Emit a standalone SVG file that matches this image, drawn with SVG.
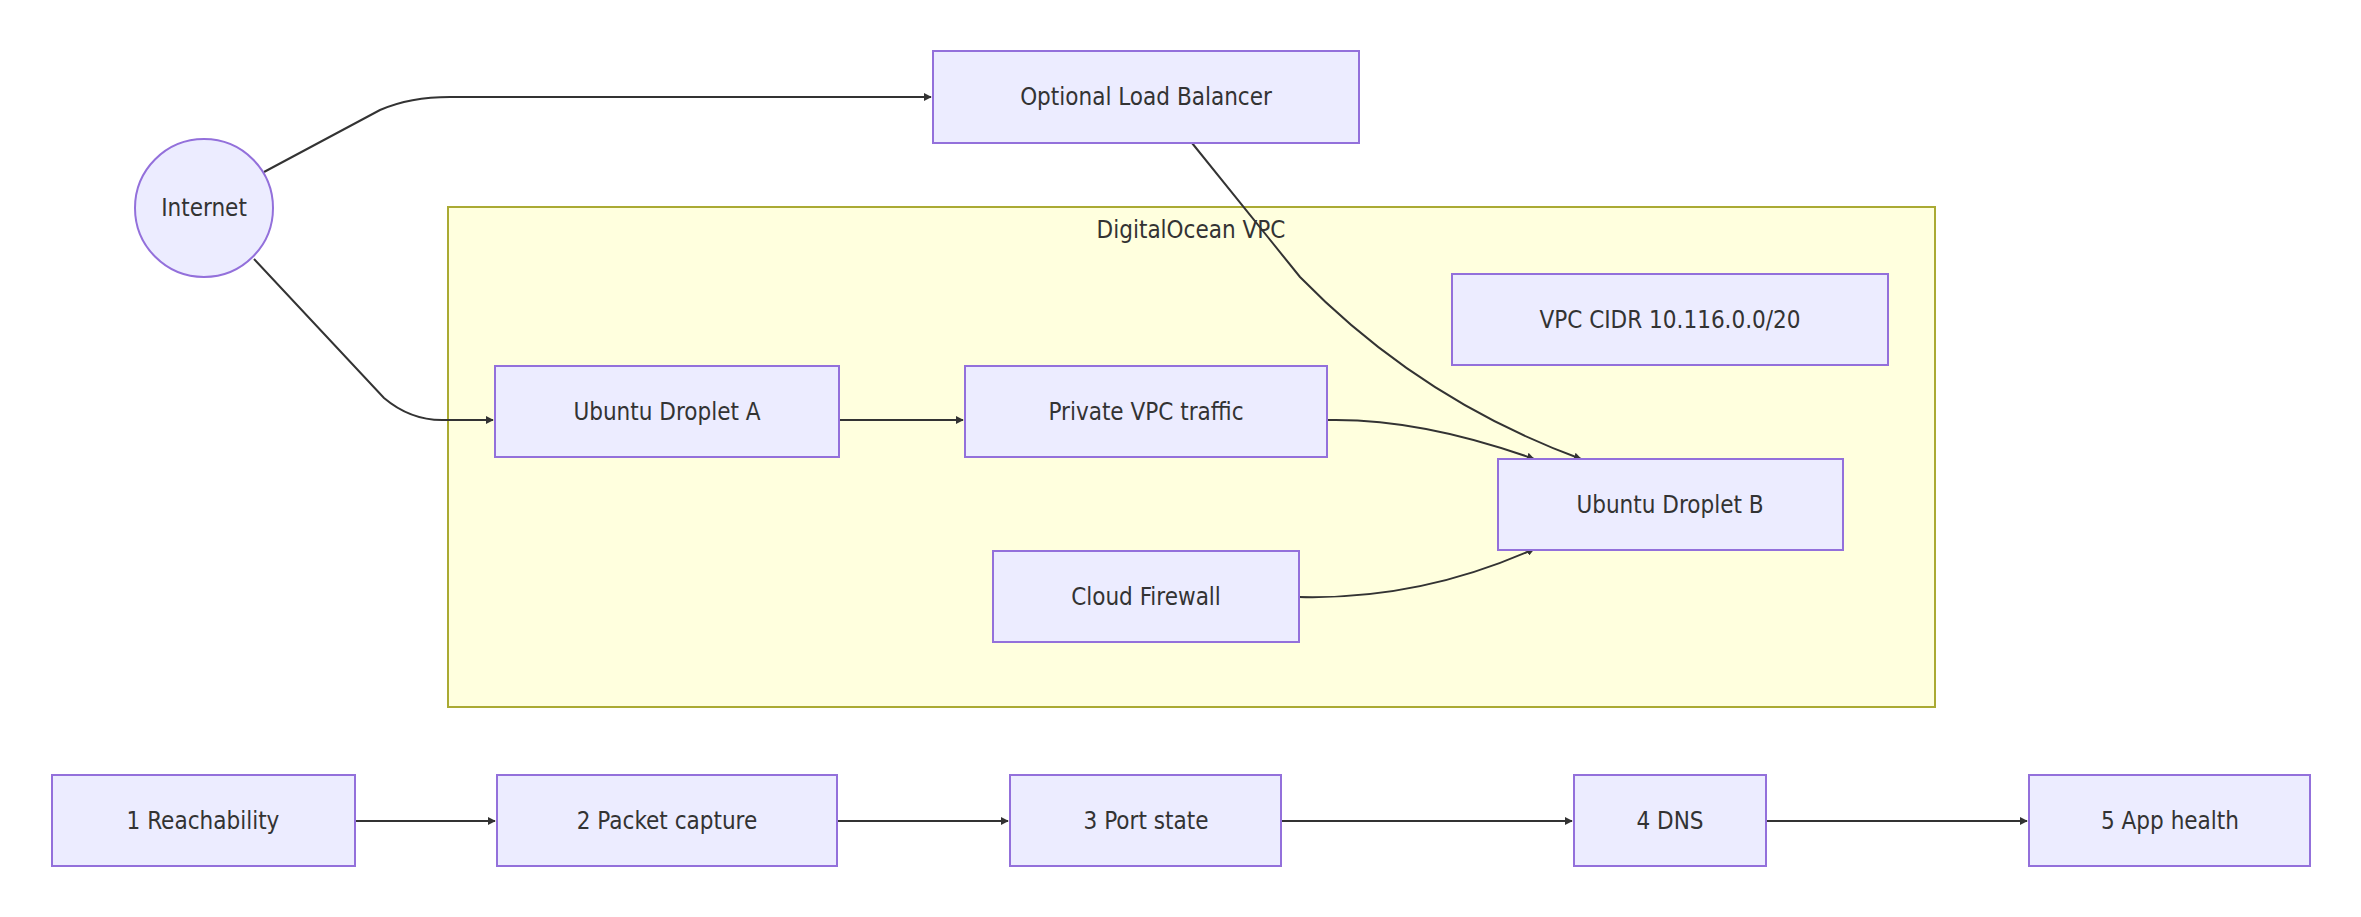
<svg xmlns="http://www.w3.org/2000/svg" width="2361" height="917" viewBox="0 0 2361 917">
<style>
.n{fill:#ECECFF;stroke:#9370DB;stroke-width:2}
.t{font-family:"DejaVu Sans Condensed","DejaVu Sans",sans-serif;font-size:24px;fill:#333;text-anchor:middle;dominant-baseline:central}
.e{fill:none;stroke:#333;stroke-width:2}
</style>
<defs><marker id="a" viewBox="0 0 10 10" refX="9" refY="5" markerWidth="8" markerHeight="8" orient="auto" markerUnits="userSpaceOnUse"><path d="M0,0L10,5L0,10z" fill="#333"/></marker></defs>
<rect width="2361" height="917" fill="#fff"/>
<g id="vpc"><rect x="448" y="207" width="1487" height="500" fill="#ffffde" stroke="#aaaa33" stroke-width="2"/><text class="t" x="1191" y="230">DigitalOcean VPC</text></g>
<g id="edges">
<path class="e" marker-end="url(#a)" d="M264,172 L380,110 Q410,97 450,97 L931,97"/>
<path class="e" marker-end="url(#a)" d="M254,259 L384,398 Q410,420 442,420 L493,420"/>
<path class="e" marker-end="url(#a)" d="M839,420 L963,420"/>
<path class="e" marker-end="url(#a)" d="M1327,420 Q1420,418 1534,459"/>
<path class="e" marker-end="url(#a)" d="M1192,143 L1300,277 Q1420,400 1581,459"/>
<path class="e" marker-end="url(#a)" d="M1299,597 Q1420,600 1534,549"/>
<path class="e" marker-end="url(#a)" d="M355,821 L495,821"/>
<path class="e" marker-end="url(#a)" d="M837,821 L1008,821"/>
<path class="e" marker-end="url(#a)" d="M1281,821 L1572,821"/>
<path class="e" marker-end="url(#a)" d="M1766,821 L2027,821"/>
</g>
<g id="internet"><circle class="n" cx="204" cy="208" r="69"/><text class="t" x="204" y="208">Internet</text></g>
<g id="lb"><rect class="n" x="933" y="51" width="426" height="92"/><text class="t" x="1146" y="97">Optional Load Balancer</text></g>
<g id="cidr"><rect class="n" x="1452" y="274" width="436" height="91"/><text class="t" x="1670" y="320">VPC CIDR 10.116.0.0/20</text></g>
<g id="dropA"><rect class="n" x="495" y="366" width="344" height="91"/><text class="t" x="667" y="412">Ubuntu Droplet A</text></g>
<g id="priv"><rect class="n" x="965" y="366" width="362" height="91"/><text class="t" x="1146" y="412">Private VPC traffic</text></g>
<g id="dropB"><rect class="n" x="1498" y="459" width="345" height="91"/><text class="t" x="1670" y="505">Ubuntu Droplet B</text></g>
<g id="fw"><rect class="n" x="993" y="551" width="306" height="91"/><text class="t" x="1146" y="597">Cloud Firewall</text></g>
<g id="s1"><rect class="n" x="52" y="775" width="303" height="91"/><text class="t" x="203" y="821">1 Reachability</text></g>
<g id="s2"><rect class="n" x="497" y="775" width="340" height="91"/><text class="t" x="667" y="821">2 Packet capture</text></g>
<g id="s3"><rect class="n" x="1010" y="775" width="271" height="91"/><text class="t" x="1146" y="821">3 Port state</text></g>
<g id="s4"><rect class="n" x="1574" y="775" width="192" height="91"/><text class="t" x="1670" y="821">4 DNS</text></g>
<g id="s5"><rect class="n" x="2029" y="775" width="281" height="91"/><text class="t" x="2170" y="821">5 App health</text></g>
</svg>
